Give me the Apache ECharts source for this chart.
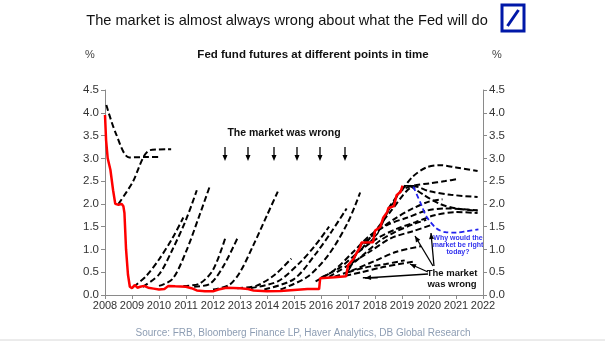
<!DOCTYPE html>
<html><head><meta charset="utf-8">
<script src="https://cdn.jsdelivr.net/npm/echarts/dist/echarts.min.js"></script>
<style>html,body{margin:0;padding:0;background:#fff}#c{width:605px;height:341px}</style>
</head><body><div id="c"></div>
<script>
// ---- data (year, %) ----
const xMin = 2008, xMax = 2022, yMin = 0, yMax = 4.5;
const fedFunds = [[2008.0,3.95],[2008.04,3.4],[2008.1,3.0],[2008.2,2.75],[2008.3,2.3],[2008.38,2.0],[2008.5,1.98],[2008.62,2.0],[2008.68,1.95],[2008.72,1.8],[2008.78,1.0],[2008.85,0.45],[2008.92,0.18],[2009.0,0.15],[2009.1,0.22],[2009.2,0.16],[2009.3,0.18],[2009.45,0.2],[2009.6,0.16],[2009.8,0.14],[2010.0,0.12],[2010.2,0.13],[2010.35,0.2],[2010.6,0.19],[2011.0,0.18],[2011.2,0.15],[2011.4,0.1],[2011.7,0.08],[2012.0,0.08],[2012.2,0.12],[2012.5,0.16],[2013.0,0.15],[2013.3,0.13],[2013.5,0.1],[2014.0,0.08],[2014.5,0.09],[2015.0,0.11],[2015.5,0.13],[2015.93,0.13],[2015.97,0.37],[2016.5,0.39],[2016.93,0.41],[2017.0,0.65],[2017.2,0.79],[2017.3,0.9],[2017.45,1.05],[2017.5,1.15],[2017.93,1.16],[2018.0,1.41],[2018.2,1.5],[2018.3,1.69],[2018.45,1.82],[2018.5,1.91],[2018.7,1.95],[2018.8,2.19],[2018.95,2.27],[2019.02,2.4]];
const spotSolid = [[2016.9,0.42],[2017.1,0.62],[2017.35,0.95],[2017.55,1.15],[2017.75,1.12],[2017.95,1.25],[2018.1,1.35],[2018.3,1.6],[2018.5,1.85],[2018.7,2.05],[2018.95,2.3],[2019.1,2.4],[2019.45,2.4]];
const flatSolid = [[2017.55,0.38],[2018.1,0.38]];
const fut2008a = [[2008.05,4.17],[2008.4,3.55],[2008.9,3.02],[2009.6,3.03],[2010.05,3.03]];
const fut2008b = [[2008.5,2.0],[2009.0,2.45],[2009.67,3.18],[2010.45,3.2]];
const fut2009a = [[2009.05,0.18],[2009.5,0.4],[2010.0,0.78],[2010.5,1.25],[2010.9,1.7]];
const fut2009b = [[2009.4,0.18],[2010.0,0.45],[2010.5,1.0],[2011.0,1.65],[2011.4,2.3]];
const fut2010a = [[2010.0,0.2],[2010.5,0.35],[2011.0,0.95],[2011.5,1.75],[2011.9,2.42]];
const fut2010b = [[2010.9,0.2],[2011.5,0.25],[2012.0,0.55],[2012.45,1.24]];
const fut2011a = [[2011.3,0.18],[2011.9,0.25],[2012.4,0.65],[2012.9,1.24]];
const fut2012a = [[2012.0,0.12],[2012.6,0.22],[2013.0,0.5],[2013.5,1.1],[2014.0,1.75],[2014.4,2.27]];
const fut2012b = [[2012.9,0.15],[2013.6,0.2],[2014.3,0.45],[2014.9,0.8]];
const fut2013a = [[2013.4,0.15],[2014.4,0.3],[2015.2,0.7],[2015.8,1.1],[2016.3,1.5]];
const fut2013b = [[2013.9,0.12],[2015.0,0.35],[2015.8,0.9],[2016.4,1.4],[2016.95,1.9]];
const fut2014a = [[2014.5,0.12],[2015.5,0.4],[2016.3,0.9],[2017.0,1.6],[2017.45,2.25]];
const fut2015a = [[2015.8,0.3],[2016.5,0.55],[2017.2,0.95],[2017.8,1.3],[2018.5,1.55],[2019.2,1.7],[2019.9,1.85],[2020.6,1.9],[2021.8,1.86]];
const fut2016a = [[2016.0,0.38],[2016.7,0.6],[2017.4,0.95],[2018.1,1.25],[2018.8,1.45],[2019.5,1.6],[2020.2,1.75],[2021.0,1.82],[2021.8,1.8]];
const fut2016b = [[2016.3,0.4],[2017.0,0.65],[2017.8,0.95],[2018.6,1.25],[2019.4,1.4],[2020.15,1.55]];
const fut2016c = [[2016.5,0.4],[2017.2,0.55],[2018.0,0.75],[2018.8,0.95],[2019.7,1.07]];
const fut2016d = [[2016.9,0.42],[2017.5,0.5],[2018.2,0.6],[2018.9,0.68],[2019.4,0.73]];
const fut2017a = [[2017.0,0.5],[2017.6,0.6],[2018.4,0.68],[2019.1,0.76]];
const fut2017b = [[2017.0,0.6],[2017.6,0.9],[2018.2,1.2],[2018.8,1.4],[2019.4,1.55],[2019.9,1.65]];
const fut2017c = [[2017.6,1.15],[2018.2,1.45],[2018.8,1.7],[2019.4,1.9],[2020.0,2.05],[2020.5,2.1]];
const fut2017d = [[2017.5,1.0],[2018.0,1.4],[2018.6,1.85],[2019.2,2.3],[2019.5,2.38],[2020.0,2.28],[2020.8,2.2],[2021.8,2.15]];
const fut2018a = [[2018.5,1.9],[2019.0,2.3],[2019.4,2.4],[2020.0,2.45],[2020.6,2.5],[2021.1,2.55]];
const fut2018b = [[2019.0,2.3],[2019.4,2.6],[2019.9,2.8],[2020.4,2.85],[2021.0,2.8],[2021.8,2.72]];
const fut2019a = [[2019.3,2.4],[2019.8,2.2],[2020.4,2.0],[2021.0,1.9],[2021.8,1.85]];
const futToday = [[2019.42,2.38],[2019.7,2.0],[2019.91,1.72],[2020.28,1.46],[2020.6,1.38],[2021.0,1.37],[2021.4,1.4],[2021.83,1.44]];
const wrongArrowYears = [2012.44,2013.3,2014.26,2015.1,2015.96,2016.9];

const dashedCurves = [fut2008a,fut2008b,fut2009a,fut2009b,fut2010a,fut2010b,fut2011a,fut2012a,fut2012b,fut2013a,fut2013b,fut2014a,fut2015a,fut2016a,fut2016b,fut2016c,fut2016d,fut2017a,fut2017b,fut2017c,fut2017d,fut2018a,fut2018b,fut2019a];

const FONT = '"Liberation Sans", Arial, sans-serif';
const chart = echarts.init(document.getElementById('c'), null, {renderer:'canvas'});

const series = [];
dashedCurves.forEach(d => series.push({type:'line', data:d, showSymbol:false, smooth:0.3, silent:true,
  lineStyle:{color:'#000', width:2, type:[6,3]}}));
series.push({type:'line', data:flatSolid, showSymbol:false, lineStyle:{color:'#000', width:1.5}});
series.push({type:'line', data:spotSolid, showSymbol:false, lineStyle:{color:'#000', width:1.5}});
series.push({type:'line', data:fedFunds, showSymbol:false, lineStyle:{color:'#ff0000', width:2.5}, z:5});
series.push({type:'line', data:futToday, showSymbol:false, smooth:0.3, lineStyle:{color:'#2222ee', width:1.8, type:[5,3]}, z:6});

const yAxisCommon = {type:'value', min:yMin, max:yMax, interval:0.5,
  axisLine:{show:true, lineStyle:{color:'#8a8a8a', width:1}},
  axisTick:{show:true, length:4, lineStyle:{color:'#8a8a8a'}},
  splitLine:{show:false},
  axisLabel:{color:'#333', fontSize:11.5, fontFamily:FONT, formatter:v=>v.toFixed(1), margin:6}};

chart.setOption({
  animation:false,
  backgroundColor:'#fff',
  grid:{left:105, right:122, top:90, bottom:46},
  xAxis:{type:'value', min:xMin, max:xMax, interval:1,
    axisLine:{lineStyle:{color:'#8a8a8a'}},
    axisTick:{show:true, length:4, lineStyle:{color:'#8a8a8a'}},
    splitLine:{show:false},
    axisLabel:{color:'#333', fontSize:11, fontFamily:FONT, margin:5, showMinLabel:true, showMaxLabel:true, formatter:v=>String(v)}},
  yAxis:[Object.assign({position:'left'}, yAxisCommon), Object.assign({position:'right'}, yAxisCommon)],
  series: series
});

function px(x,y){ return chart.convertToPixel({gridIndex:0}, [x,y]); }
const g = [];
// titles
g.push({type:'text', x:287, y:21, style:{text:'The market is almost always wrong about what the Fed will do', font:'14.6px '+FONT, fill:'#111', align:'center', verticalAlign:'middle'}});
g.push({type:'text', x:313, y:55, style:{text:'Fed fund futures at different points in time', font:'bold 11.5px '+FONT, fill:'#111', align:'center', verticalAlign:'middle'}});
g.push({type:'text', x:90, y:55, style:{text:'%', font:'11px '+FONT, fill:'#444', align:'center', verticalAlign:'middle'}});
g.push({type:'text', x:497, y:55, style:{text:'%', font:'11px '+FONT, fill:'#444', align:'center', verticalAlign:'middle'}});
// logo
g.push({type:'rect', shape:{x:502, y:5, width:22, height:26}, style:{fill:'#fff', stroke:'#0018a8', lineWidth:3}});
g.push({type:'line', shape:{x1:507.5, y1:26, x2:518.5, y2:10}, style:{stroke:'#0018a8', lineWidth:3}});
// source
g.push({type:'text', x:303, y:333, style:{text:'Source: FRB, Bloomberg Finance LP, Haver Analytics, DB Global Research', font:'10px '+FONT, fill:'#8d9db3', align:'center', verticalAlign:'middle'}});
g.push({type:'line', shape:{x1:0, y1:340, x2:605, y2:340}, style:{stroke:'#d8d8d8', lineWidth:1}});
// "The market was wrong" with arrows
g.push({type:'text', x:284, y:133, style:{text:'The market was wrong', font:'bold 10.5px '+FONT, fill:'#111', align:'center', verticalAlign:'middle'}});
wrongArrowYears.forEach(yr => {
  const p = px(yr, 0);
  const x = Math.round(p[0]);
  g.push({type:'line', shape:{x1:x, y1:147, x2:x, y2:157}, style:{stroke:'#000', lineWidth:1.3}});
  g.push({type:'polygon', shape:{points:[[x-2.5,155],[x+2.5,155],[x,161]]}, style:{fill:'#000'}});
});
// lower right annotation
g.push({type:'text', x:452, y:273, style:{text:'The market', font:'bold 9.5px '+FONT, fill:'#111', align:'center', verticalAlign:'middle'}});
g.push({type:'text', x:452, y:284, style:{text:'was wrong', font:'bold 9.5px '+FONT, fill:'#111', align:'center', verticalAlign:'middle'}});
function arrow(x1,y1,x2,y2){
  g.push({type:'line', shape:{x1:x1,y1:y1,x2:x2,y2:y2}, style:{stroke:'#000', lineWidth:1.3}});
  const a = Math.atan2(y2-y1, x2-x1), L=6, W=2.5;
  const bx = x2 - L*Math.cos(a), by = y2 - L*Math.sin(a);
  g.push({type:'polygon', shape:{points:[[x2,y2],[bx - W*Math.sin(a), by + W*Math.cos(a)],[bx + W*Math.sin(a), by - W*Math.cos(a)]]}, style:{fill:'#000'}});
}
arrow(428,274,365,278);
arrow(428,272,410,264);
arrow(433,266,415,236);
arrow(434,266,431,233);
// blue annotation
g.push({type:'text', x:458, y:238, style:{text:'Why would the', font:'bold 7px '+FONT, fill:'#3333ee', align:'center', verticalAlign:'middle'}});
g.push({type:'text', x:458, y:245, style:{text:'market be right', font:'bold 7px '+FONT, fill:'#3333ee', align:'center', verticalAlign:'middle'}});
g.push({type:'text', x:458, y:252, style:{text:'today?', font:'bold 7px '+FONT, fill:'#3333ee', align:'center', verticalAlign:'middle'}});

chart.setOption({graphic:{elements:g}});
</script>
</body></html>
